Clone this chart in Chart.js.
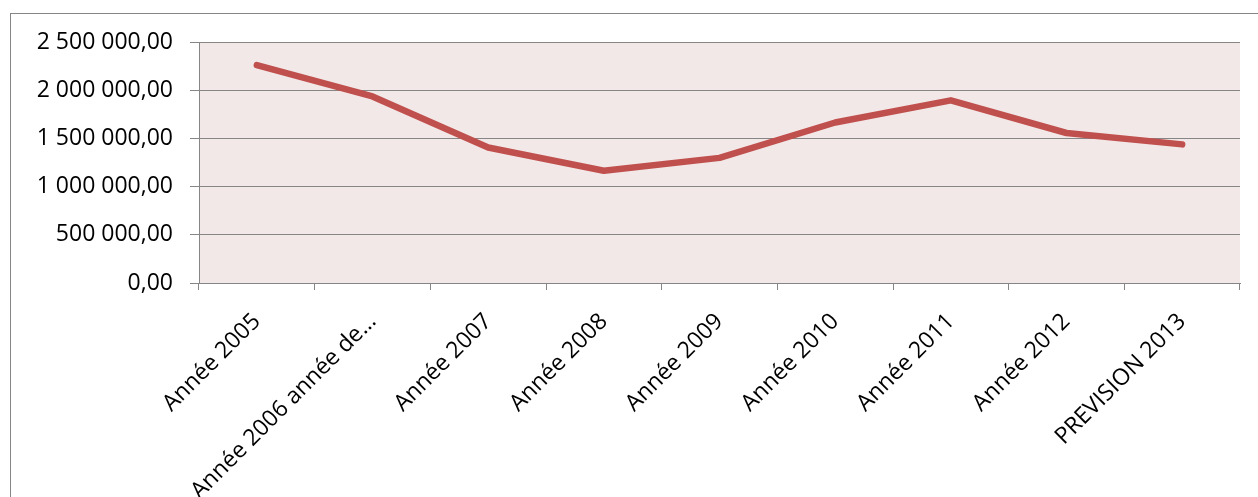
<!DOCTYPE html>
<html lang="fr">
<head>
<meta charset="utf-8">
<title>Évolution annuelle</title>
<script src="https://cdn.jsdelivr.net/npm/chart.js@4/dist/chart.umd.min.js"></script>
<style>
  html, body { margin: 0; padding: 0; background: #fff; overflow: hidden; }
  #frame {
    position: absolute; left: 10px; top: 13px;
    width: 1300px; height: 600px;
    border: 1px solid #868686;
  }
  #wrap { position: absolute; left: 0; top: 0; width: 1258px; height: 497px; }
</style>
</head>
<body>
<div id="frame"></div>
<div id="wrap"><canvas id="chart" width="1258" height="497"></canvas></div>
<script>
// ── Data ─────────────────────────────────────────────────
const CATEGORIES = [
  'Année 2005', 'Année 2006 année de…', 'Année 2007', 'Année 2008',
  'Année 2009', 'Année 2010', 'Année 2011', 'Année 2012', 'PREVISION 2013'
];
const VALUES = [
  2260000, 1935000, 1405000, 1165000, 1298000, 1665000, 1895000, 1556000, 1438000
];
const Y_MIN  = 0;
const Y_MAX  = 2500000;
const Y_STEP = 500000;

// ── Colours ──────────────────────────────────────────────
const LINE_COLOR = '#C0504D';
const PLOT_BG    = '#F2E8E8';
const GRID_COLOR = '#868686';
const FONT       = { family: '"Open Sans", Lato, sans-serif', size: 23 };

// ── French number format: "2 500 000,00" ─────────────────
function fmt(v) {
  const parts = Number(v).toFixed(2).split('.');
  const int = parts[0].replace(/\B(?=(\d{3})+(?!\d))/g, ' ');
  return int + ',' + parts[1];
}

// Fill the plot area behind the grid
const plotBackground = {
  id: 'plotBackground',
  beforeDraw(chart) {
    const { ctx, chartArea: a } = chart;
    ctx.save();
    ctx.fillStyle = PLOT_BG;
    ctx.fillRect(a.left, a.top, a.right - a.left, a.bottom - a.top);
    ctx.restore();
  }
};

new Chart(document.getElementById('chart'), {
  type: 'line',
  data: {
    labels: CATEGORIES,
    datasets: [{
      data: VALUES,
      borderColor: LINE_COLOR,
      borderWidth: 6.5,
      borderCapStyle: 'round',
      borderJoinStyle: 'round',
      pointRadius: 0,
      tension: 0,
      fill: false
    }]
  },
  options: {
    responsive: false,
    animation: false,
    layout: { padding: { top: 42, right: 18, left: 0, bottom: 0 } },
    plugins: {
      legend: { display: false },
      tooltip: { enabled: false }
    },
    scales: {
      x: {
        offset: true,
        grid: {
          offset: true,
          drawOnChartArea: false,
          drawTicks: true,
          tickLength: 7,
          color: GRID_COLOR
        },
        border: { display: true, color: GRID_COLOR, width: 1 },
        ticks: {
          color: '#000',
          font: FONT,
          minRotation: 45,
          maxRotation: 45,
          padding: 18,
          autoSkip: false
        },
        afterFit: (axis) => { axis.height = 214; }
      },
      y: {
        min: Y_MIN,
        max: Y_MAX,
        grid: {
          color: GRID_COLOR,
          drawTicks: true,
          tickLength: 9
        },
        border: { display: true, color: GRID_COLOR, width: 1 },
        ticks: {
          stepSize: Y_STEP,
          color: '#000',
          font: FONT,
          padding: 17,
          callback: (v) => fmt(v)
        },
        afterFit: (axis) => { axis.width = 199; }
      }
    }
  },
  plugins: [plotBackground]
});
</script>
</body>
</html>
